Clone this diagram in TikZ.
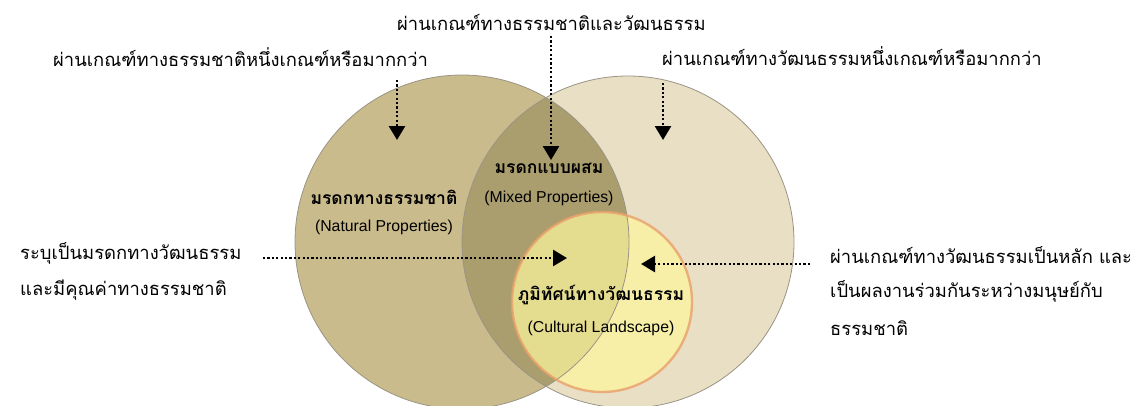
\documentclass[tikz,border=0pt]{standalone}
\usepackage{fontspec}
\setmainfont{Liberation Sans}
\newfontfamily\thai[Script=Thai]{Loma}
\usetikzlibrary{arrows.meta}
\definecolor{leftc}{HTML}{C9BB8C}
\definecolor{rightc}{HTML}{E9DFC5}
\definecolor{lensc}{HTML}{AA9D6E}
\definecolor{yelc}{HTML}{FDF79C}
\definecolor{edgec}{HTML}{9A9484}
\definecolor{orangec}{HTML}{E9A06A}
\tikzset{
  note/.style={font=\thai\fontsize{18.4}{22}\selectfont, inner sep=0pt, anchor=west},
  title/.style={font=\thai\bfseries\fontsize{17.5}{20}\selectfont, inner sep=0pt},
  eng/.style={font=\fontsize{15.8}{18}\selectfont, inner sep=0pt},
  dotarrow/.style={line width=2.6pt, dash pattern=on 2.2pt off 2.2pt, -{Triangle[width=16pt,length=14pt]}, shorten >=-1pt},
  ring/.style={draw=edgec, line width=0.8pt}
}
\begin{document}
\begin{tikzpicture}[x=1pt,y=-1pt]
\useasboundingbox (0,0) rectangle (1135,405);
\fill[white] (0,0) rectangle (1135,405);
% circles
\fill[leftc] (462,242) circle (167);
\fill[rightc] (628,242) circle (166);
\begin{scope}
  \clip (462,242) circle (167);
  \fill[lensc] (628,242) circle (166);
\end{scope}
\fill[yelc, opacity=0.7] (602,302) circle (90);
\draw[ring] (462,242) circle (167);
\draw[ring] (628,242) circle (166);
\draw[orangec, line width=2.4pt, opacity=0.8] (602,302) circle (90);
\node[circle, minimum size=180pt, inner sep=0pt] (CL) at (602,302) {};
% labels in circles
\node[title] (nat) at (384,197) {มรดกทางธรรมชาติ};
\node[eng] (nate) at (384,227) {(Natural Properties)};
\node[title] (mix) at (549,168) {มรดกแบบผสม};
\node[eng] (mixe) at (549,198) {(Mixed Properties)};
\node[title] (cul) at (601,295) {ภูมิทัศน์ทางวัฒนธรรม};
\node[eng] (cule) at (601,328) {(Cultural Landscape)};
% notes
\node[note] (t1) at (53,57) {ผ่านเกณฑ์ทางธรรมชาติหนึ่งเกณฑ์หรือมากกว่า};
\node[note] (t2) at (397,22) {ผ่านเกณฑ์ทางธรรมชาติและวัฒนธรรม};
\node[note] (t3) at (662,56) {ผ่านเกณฑ์ทางวัฒนธรรมหนึ่งเกณฑ์หรือมากกว่า};
\node[note] (l1) at (20,253) {ระบุเป็นมรดกทางวัฒนธรรม};
\node[note] (l2) at (20,290) {และมีคุณค่าทางธรรมชาติ};
\node[note] (r1) at (830,255) {ผ่านเกณฑ์ทางวัฒนธรรมเป็นหลัก และ};
\node[note] (r2) at (830,291) {เป็นผลงานร่วมกันระหว่างมนุษย์กับ};
\node[note] (r3) at (830,328) {ธรรมชาติ};
% arrow ends
\coordinate (a1s) at (397,80);
\coordinate (a1e) at (397,139);
\coordinate (a2s) at (551,36);
\coordinate (a2e) at (551,159);
\coordinate (a3s) at (663,83);
\coordinate (a3e) at (663,139);
\coordinate (a4s) at (263,258);
\coordinate (a4e) at (566,258);
\coordinate (a5s) at (810,264);
\coordinate (a5e) at (642,264);
\draw[dotarrow] (a4s) -- (a4e);
\draw[dotarrow] (a1s) -- (a1e);
\draw[dotarrow] (a2s) -- (a2e);
\draw[dotarrow] (a3s) -- (a3e);
\draw[dotarrow] (a5s) -- (a5e);
\end{tikzpicture}
\end{document}
